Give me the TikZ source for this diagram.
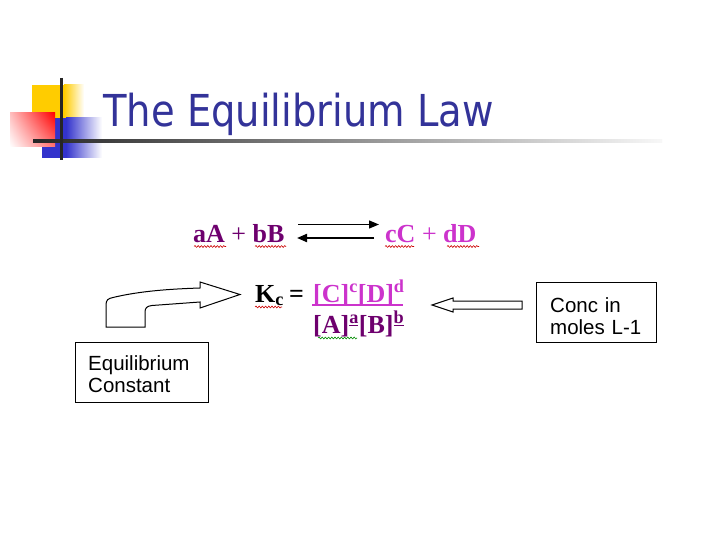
\documentclass[tikz,border=0pt]{standalone}
\usepackage{fontspec}
\setmainfont{Liberation Serif}
\newfontfamily\titlefont{DejaVu Sans}
\newfontfamily\boxfont{Liberation Sans}
\usetikzlibrary{arrows.meta,decorations.pathmorphing,shadings}
\definecolor{titleblue}{RGB}{51,51,153}
\definecolor{chempurple}{RGB}{110,0,110}
\definecolor{chemmagenta}{RGB}{204,51,204}
\definecolor{decoyellow}{RGB}{255,204,0}
\definecolor{decoblue}{RGB}{51,51,204}
\definecolor{decored}{RGB}{255,0,0}
\definecolor{squigred}{RGB}{204,0,0}
\definecolor{squiggreen}{RGB}{0,140,0}
\tikzset{
  chem/.style={inner sep=0pt, anchor=base west, font=\bfseries\fontsize{26}{30}\selectfont},
  boxframe/.style={draw, line width=1pt, anchor=north west, inner sep=0pt},
  boxtext/.style={inner sep=0pt, anchor=base west, align=left,
    font=\boxfont\fontsize{20.5}{22.5}\selectfont},
  blockarrow/.style={draw, fill=white, line width=1pt, line join=miter},
  squiggle/.style={decorate, decoration={snake, amplitude=0.9pt, segment length=3.2pt}, line width=0.6pt},
  reacarrow/.style={-{Triangle[length=10pt,width=8pt]}}
}
\begin{document}
\begin{tikzpicture}[x=1pt,y=-1pt]
\useasboundingbox (0,0) rectangle (720,540);
\fill[white] (0,0) rectangle (720,540);

% decoration squares
\fill[decoyellow] (32,85) rectangle (64,125);
\shade[left color=decoyellow, right color=white] (64,85) rectangle (84,125);
\fill[decoblue] (42,118) rectangle (66,158);
\shade[left color=decoblue, right color=white] (66,118) rectangle (102,158);
\shade[upper left=decored!25, upper right=decored, lower left=white, lower right=decored!55] (10,113) rectangle (55,147);
\shade[left color=black!85, right color=black!3] (33,139.5) rectangle (662,142.5);
\draw[line width=3pt, black!85] (61,78) -- (61,160);

% title
\node[anchor=base west, text=titleblue, inner sep=0pt] (title) at (103,127)
  {\titlefont\fontsize{44}{50}\selectfont\scalebox{0.875}[1]{The Equilibrium Law}};

% reaction
\node[chem, text=chempurple] (react) at (193,242) {aA \textmd{+} bB};
\node[chem, text=chemmagenta] (prod) at (385,242) {cC \textmd{+} dD};
\coordinate (fwdS) at (298,224.5);
\coordinate (fwdE) at (379,224.5);
\coordinate (bckS) at (374,238);
\coordinate (bckE) at (297,238);
\draw[reacarrow, line width=1.3pt] (fwdS) -- (fwdE);
\draw[reacarrow, line width=2pt] (bckS) -- (bckE);
\draw[squiggle, squigred] (194,246.5) -- (226,246.5);
\draw[squiggle, squigred] (255,246.5) -- (286,246.5);
\draw[squiggle, squigred] (385,246.5) -- (414,246.5);
\draw[squiggle, squigred] (447,246.5) -- (479,246.5);

% equilibrium constant expression
\node[chem] (kc) at (255,302) {K\textsubscript{c}};
\node[chem] (eq) at (289,302) {=};
\node[chem, text=chemmagenta] (num) at (313,302) {[C]\textsuperscript{c}[D]\textsuperscript{d}};
\coordinate (barL) at (312,305);
\coordinate (barR) at (403,305);
\draw[chemmagenta, line width=2pt] (barL) -- (barR);
\node[chem, text=chempurple] (den) at (313,333) {[A]\textsuperscript{\underline{a}}[B]\textsuperscript{\underline{b}}};
\draw[squiggle, squigred] (255,307) -- (282,307);
\draw[squiggle, squiggreen] (318,338) -- (357,338);

% block arrows
\draw[blockarrow] (106,327) -- (106,305) .. controls (106,300) and (108,298.5) .. (113,297.5)
  .. controls (140,291) and (170,289) .. (200,288) -- (200,282) -- (240,294.5) -- (200,308)
  -- (200,302) -- (152,305.5) .. controls (147,306) and (145,308) .. (145,312) -- (145,327) -- cycle;
\draw[blockarrow] (432,305) -- (453,298) -- (453,301) -- (522,301) -- (522,309) -- (453,309) -- (453,312) -- cycle;

% text boxes
\node[boxframe, minimum width=133pt, minimum height=60pt] (eqbox) at (75,342) {};
\node[boxtext, text width=110pt] (eqtext) at (88,370) {Equilibrium\\Constant};
\node[boxframe, minimum width=120pt, minimum height=60pt] (conc) at (536,282) {};
\node[boxtext, text width=100pt] (conctext) at (550,312) {Conc in\\moles L-1};
\end{tikzpicture}
\end{document}
